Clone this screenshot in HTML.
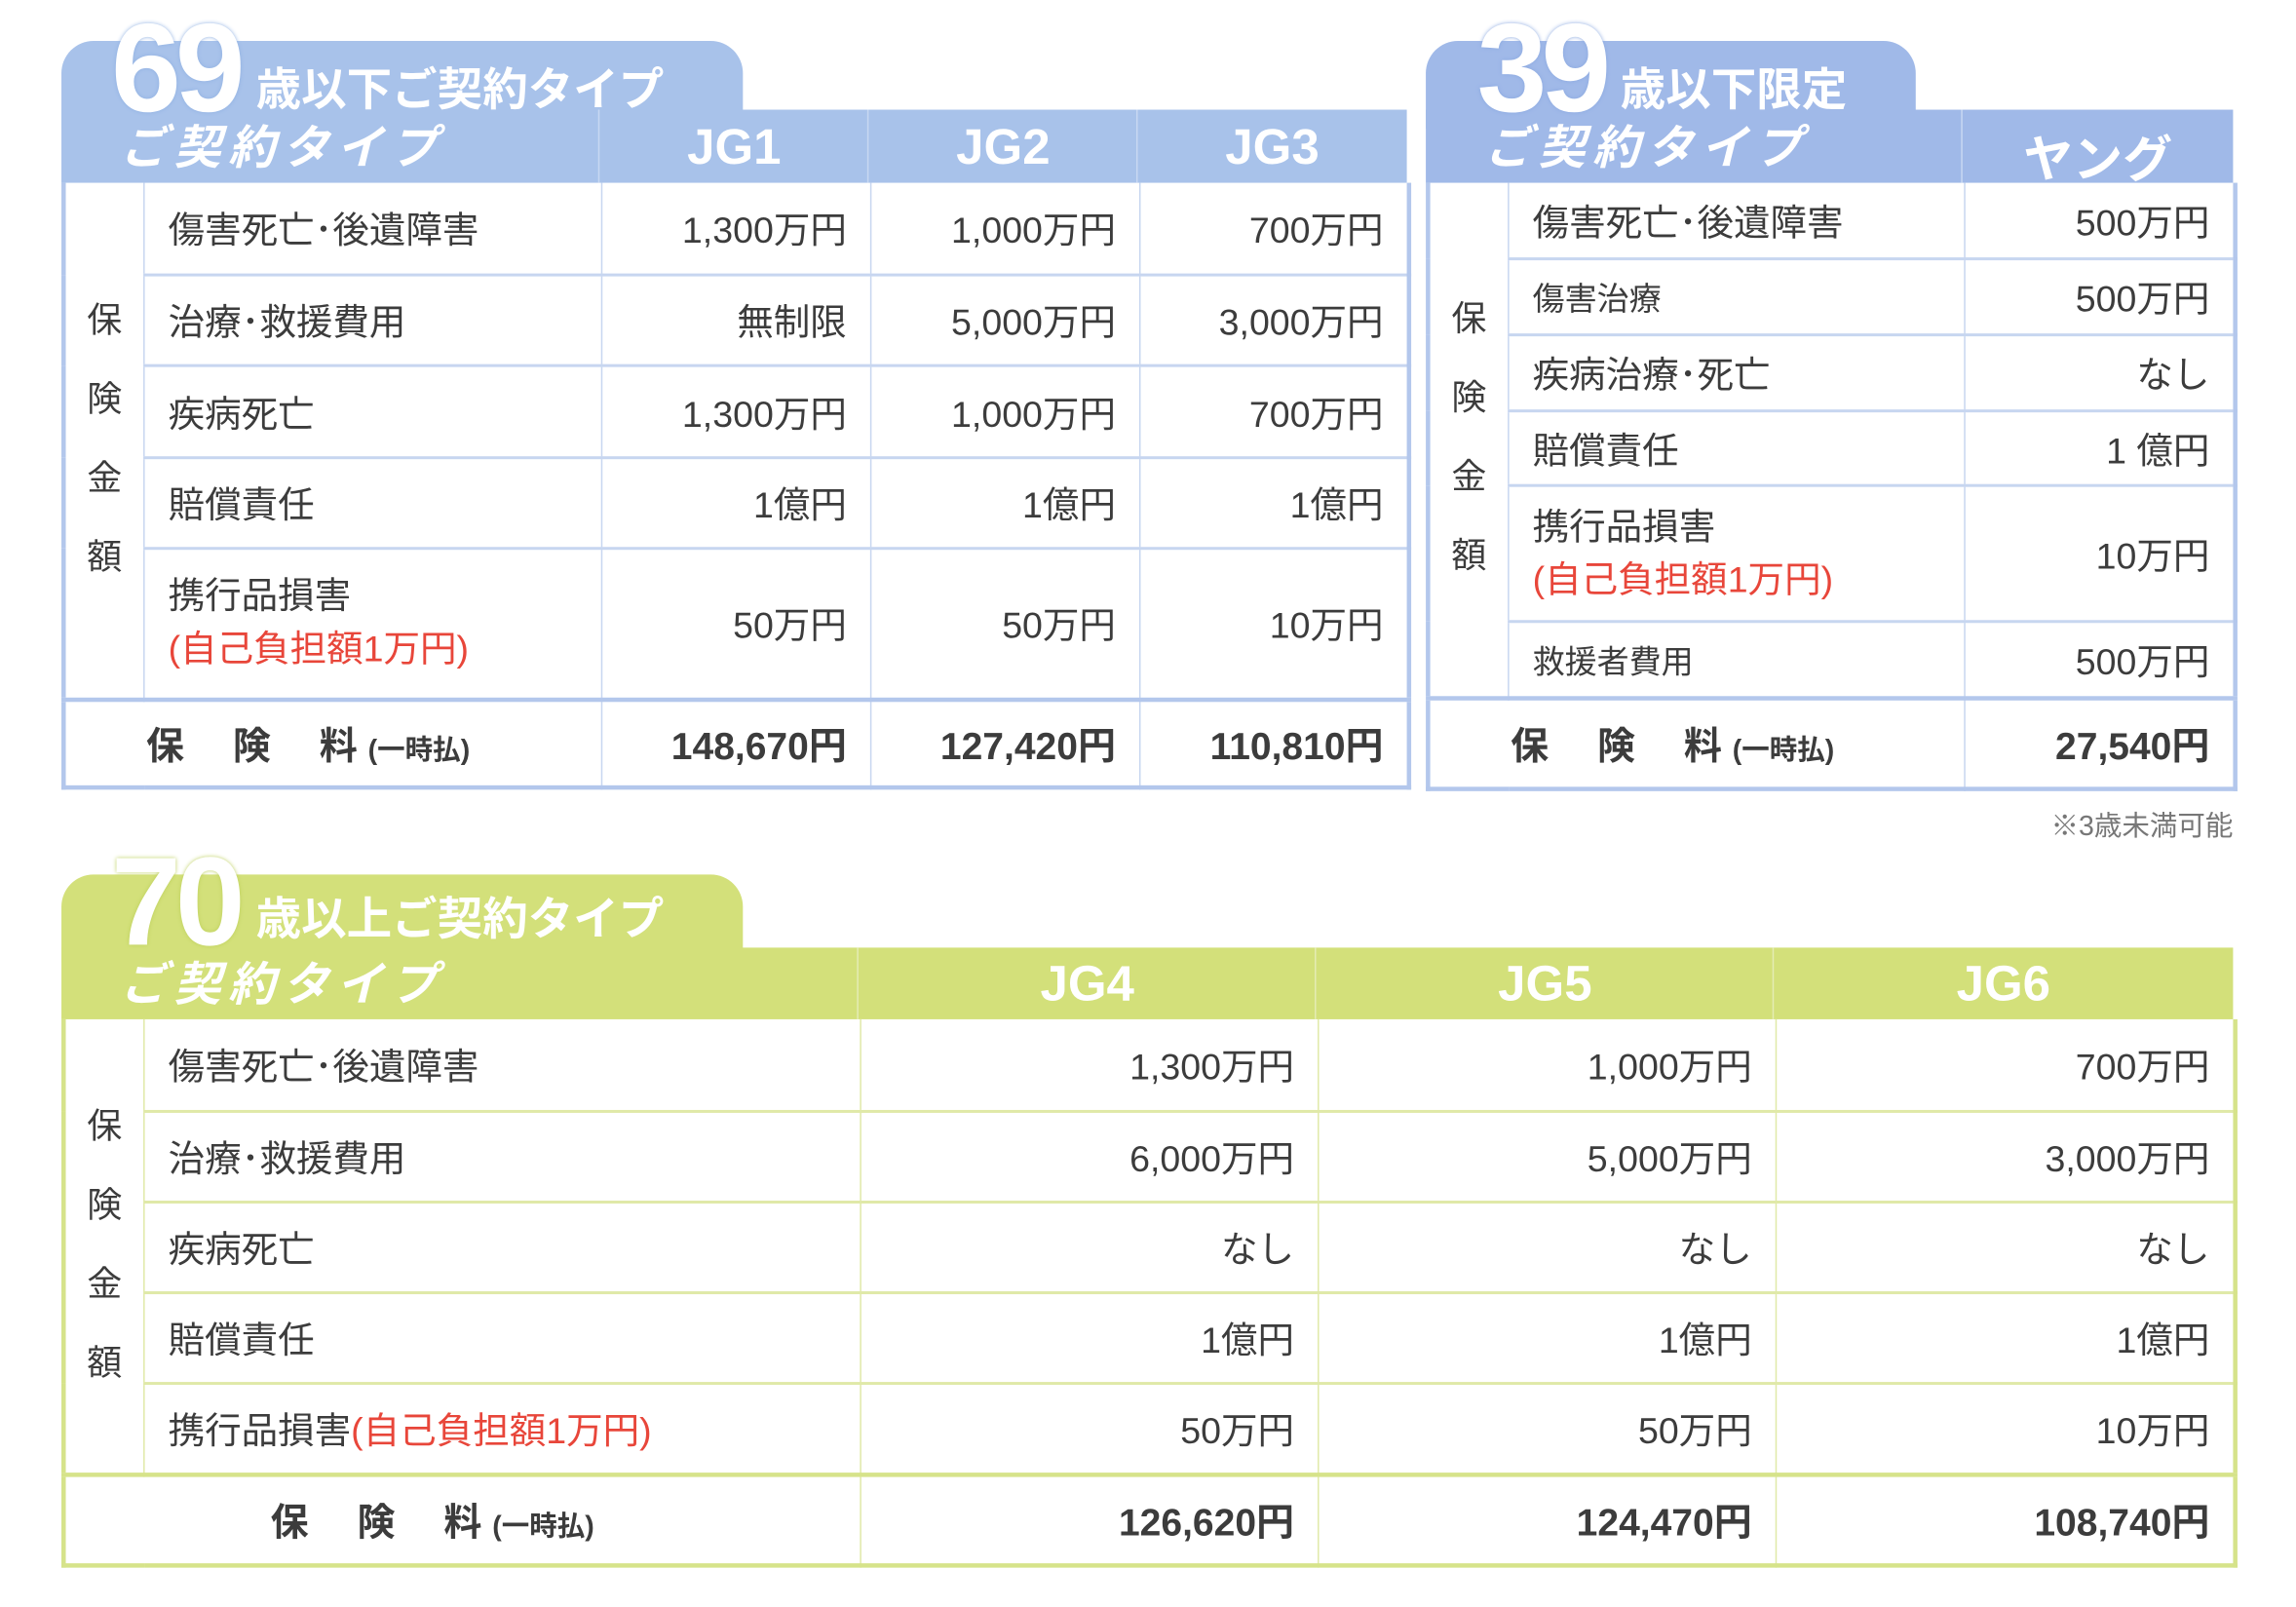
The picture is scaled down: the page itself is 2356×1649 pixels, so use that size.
<!DOCTYPE html>
<html><head><meta charset="utf-8"><style>
body{margin:0;background:#fff;width:2356px;height:1648px;overflow:hidden}
#s{position:absolute;left:0;top:0;width:1570px;height:1099px;transform:scale(1.5006);transform-origin:0 0;font-family:"Liberation Sans","Noto Sans CJK JP",sans-serif;color:#3c3c3c}
.tab{position:absolute;border-radius:22px 22px 0 0}
.big{position:absolute;color:#fff;font-weight:bold;font-size:86px;line-height:86px;letter-spacing:-4px}
.sub{position:absolute;color:#fff;font-weight:bold;font-size:31px;line-height:34px}
.hd{position:absolute;color:#fff;font-weight:bold;font-size:32px;line-height:34px;font-style:italic;letter-spacing:5px}
table{position:absolute;border-collapse:collapse;table-layout:fixed}
td{font-size:25px;padding:0 16px;white-space:nowrap}
td.v{text-align:right}
td.lab{text-align:center;padding:0;font-size:24px;line-height:54px;vertical-align:middle}
.r{color:#e8463a}
.prem td{font-weight:bold;font-size:26px}
.ph{color:#fff;font-weight:bold;font-size:34px;text-align:center}
</style></head><body><div id="s">

<!-- table 1 -->
<div class="tab" style="left:42px;top:28px;width:466px;height:60px;background:#a8c2ea"></div>
<div style="position:absolute;left:42px;top:75px;width:920px;height:50px;background:#a8c2ea"></div>
<div class="big" style="left:76px;top:4px;text-shadow:0 0 3px #8fb0e2">69</div>
<div class="sub" style="left:175px;top:45px">歳以下ご契約タイプ</div>
<div class="hd" style="left:82px;top:84px">ご契約タイプ</div>
<div class="ph" style="position:absolute;left:410px;top:82px;width:184px">JG1</div>
<div class="ph" style="position:absolute;left:594px;top:82px;width:184px">JG2</div>
<div class="ph" style="position:absolute;left:778px;top:82px;width:184px">JG3</div>
<div style="position:absolute;left:409px;top:75px;width:1px;height:50px;background:#c8d8f2"></div>
<div style="position:absolute;left:593px;top:75px;width:1px;height:50px;background:#c8d8f2"></div>
<div style="position:absolute;left:777px;top:75px;width:1px;height:50px;background:#c8d8f2"></div>
<table style="left:42px;top:125px;width:920px;border:3px solid #b3c7ec;border-top:none">
<colgroup><col style="width:55px"><col style="width:313px"><col style="width:184px"><col style="width:184px"><col style="width:184px"></colgroup>
<tr style="height:63px"><td class="lab" rowspan="5" style="border-right:1px solid #c7d6f0">保<br>険<br>金<br>額</td><td>傷害死亡･後遺障害</td><td class="v" style="border-left:1px solid #c7d6f0">1,300万円</td><td class="v" style="border-left:1px solid #c7d6f0">1,000万円</td><td class="v" style="border-left:1px solid #c7d6f0">700万円</td></tr>
<tr style="height:62px;border-top:2px solid #c7d6f0"><td>治療･救援費用</td><td class="v" style="border-left:1px solid #c7d6f0">無制限</td><td class="v" style="border-left:1px solid #c7d6f0">5,000万円</td><td class="v" style="border-left:1px solid #c7d6f0">3,000万円</td></tr>
<tr style="height:63px;border-top:2px solid #c7d6f0"><td>疾病死亡</td><td class="v" style="border-left:1px solid #c7d6f0">1,300万円</td><td class="v" style="border-left:1px solid #c7d6f0">1,000万円</td><td class="v" style="border-left:1px solid #c7d6f0">700万円</td></tr>
<tr style="height:62px;border-top:2px solid #c7d6f0"><td>賠償責任</td><td class="v" style="border-left:1px solid #c7d6f0">1億円</td><td class="v" style="border-left:1px solid #c7d6f0">1億円</td><td class="v" style="border-left:1px solid #c7d6f0">1億円</td></tr>
<tr style="height:103px;border-top:2px solid #c7d6f0"><td style="line-height:36px">携行品損害<br><span class="r">(自己負担額1万円)</span></td><td class="v" style="border-left:1px solid #c7d6f0">50万円</td><td class="v" style="border-left:1px solid #c7d6f0">50万円</td><td class="v" style="border-left:1px solid #c7d6f0">10万円</td></tr>
<tr class="prem" style="height:60px;border-top:3px solid #b3c7ec"><td colspan="2" style="padding-left:55px">保　 険　 料 <span style="font-size:19px">(一時払)</span></td><td class="v" style="border-left:1px solid #c7d6f0">148,670円</td><td class="v" style="border-left:1px solid #c7d6f0">127,420円</td><td class="v" style="border-left:1px solid #c7d6f0">110,810円</td></tr>
</table>

<!-- table 2 -->
<div class="tab" style="left:975px;top:28px;width:335px;height:60px;background:#a0b9e8"></div>
<div style="position:absolute;left:975px;top:75px;width:552px;height:50px;background:#a0b9e8"></div>
<div class="big" style="left:1010px;top:4px;text-shadow:0 0 3px #8aa8e0">39</div>
<div class="sub" style="left:1108px;top:45px">歳以下限定</div>
<div class="hd" style="left:1015px;top:84px">ご契約タイプ</div>
<div class="ph" style="position:absolute;left:1342px;top:82px;width:185px">ヤング</div>
<div style="position:absolute;left:1341px;top:75px;width:1px;height:50px;background:#c8d8f2"></div>
<table style="left:975px;top:125px;width:552px;border:3px solid #b3c7ec;border-top:none">
<colgroup><col style="width:55px"><col style="width:312px"><col style="width:185px"></colgroup>
<tr style="height:52px"><td class="lab" rowspan="6" style="border-right:1px solid #c7d6f0">保<br>険<br>金<br>額</td><td>傷害死亡･後遺障害</td><td class="v" style="border-left:1px solid #c7d6f0">500万円</td></tr>
<tr style="height:52px;border-top:2px solid #c7d6f0"><td style="font-size:22px">傷害治療</td><td class="v" style="border-left:1px solid #c7d6f0">500万円</td></tr>
<tr style="height:52px;border-top:2px solid #c7d6f0"><td>疾病治療･死亡</td><td class="v" style="border-left:1px solid #c7d6f0">なし</td></tr>
<tr style="height:51px;border-top:2px solid #c7d6f0"><td>賠償責任</td><td class="v" style="border-left:1px solid #c7d6f0">1 億円</td></tr>
<tr style="height:93px;border-top:2px solid #c7d6f0"><td style="line-height:36px">携行品損害<br><span class="r">(自己負担額1万円)</span></td><td class="v" style="border-left:1px solid #c7d6f0">10万円</td></tr>
<tr style="height:52px;border-top:2px solid #c7d6f0"><td style="font-size:22px">救援者費用</td><td class="v" style="border-left:1px solid #c7d6f0">500万円</td></tr>
<tr class="prem" style="height:62px;border-top:3px solid #b3c7ec"><td colspan="2" style="padding-left:55px">保　 険　 料 <span style="font-size:19px">(一時払)</span></td><td class="v" style="border-left:1px solid #c7d6f0">27,540円</td></tr>
</table>
<div style="position:absolute;left:1300px;top:550px;width:227px;text-align:right;font-size:19px;color:#777">※3歳未満可能</div>

<!-- table 3 -->
<div class="tab" style="left:42px;top:598px;width:466px;height:60px;background:#d3e07a"></div>
<div style="position:absolute;left:42px;top:648px;width:1485px;height:49px;background:#d3e07a"></div>
<div class="big" style="left:76px;top:574px;text-shadow:0 0 3px #bccf5a">70</div>
<div class="sub" style="left:175px;top:612px">歳以上ご契約タイプ</div>
<div class="hd" style="left:82px;top:656px">ご契約タイプ</div>
<div class="ph" style="position:absolute;left:587px;top:654px;width:313px">JG4</div>
<div class="ph" style="position:absolute;left:900px;top:654px;width:313px">JG5</div>
<div class="ph" style="position:absolute;left:1213px;top:654px;width:314px">JG6</div>
<div style="position:absolute;left:586px;top:648px;width:1px;height:49px;background:#e4ecb4"></div>
<div style="position:absolute;left:899px;top:648px;width:1px;height:49px;background:#e4ecb4"></div>
<div style="position:absolute;left:1212px;top:648px;width:1px;height:49px;background:#e4ecb4"></div>
<table style="left:42px;top:697px;width:1485px;border:3px solid #d6e38a;border-top:none">
<colgroup><col style="width:55px"><col style="width:490px"><col style="width:313px"><col style="width:313px"><col style="width:314px"></colgroup>
<tr style="height:63px"><td class="lab" rowspan="5" style="border-right:1px solid #e0e9a8">保<br>険<br>金<br>額</td><td>傷害死亡･後遺障害</td><td class="v" style="border-left:1px solid #e0e9a8">1,300万円</td><td class="v" style="border-left:1px solid #e0e9a8">1,000万円</td><td class="v" style="border-left:1px solid #e0e9a8">700万円</td></tr>
<tr style="height:62px;border-top:2px solid #e0e9a8"><td>治療･救援費用</td><td class="v" style="border-left:1px solid #e0e9a8">6,000万円</td><td class="v" style="border-left:1px solid #e0e9a8">5,000万円</td><td class="v" style="border-left:1px solid #e0e9a8">3,000万円</td></tr>
<tr style="height:62px;border-top:2px solid #e0e9a8"><td>疾病死亡</td><td class="v" style="border-left:1px solid #e0e9a8">なし</td><td class="v" style="border-left:1px solid #e0e9a8">なし</td><td class="v" style="border-left:1px solid #e0e9a8">なし</td></tr>
<tr style="height:62px;border-top:2px solid #e0e9a8"><td>賠償責任</td><td class="v" style="border-left:1px solid #e0e9a8">1億円</td><td class="v" style="border-left:1px solid #e0e9a8">1億円</td><td class="v" style="border-left:1px solid #e0e9a8">1億円</td></tr>
<tr style="height:62px;border-top:2px solid #e0e9a8"><td>携行品損害<span class="r">(自己負担額1万円)</span></td><td class="v" style="border-left:1px solid #e0e9a8">50万円</td><td class="v" style="border-left:1px solid #e0e9a8">50万円</td><td class="v" style="border-left:1px solid #e0e9a8">10万円</td></tr>
<tr class="prem" style="height:62px;border-top:3px solid #d6e38a"><td colspan="2" style="padding-left:140px">保　 険　 料 <span style="font-size:19px">(一時払)</span></td><td class="v" style="border-left:1px solid #e0e9a8">126,620円</td><td class="v" style="border-left:1px solid #e0e9a8">124,470円</td><td class="v" style="border-left:1px solid #e0e9a8">108,740円</td></tr>
</table>

</div></body></html>
